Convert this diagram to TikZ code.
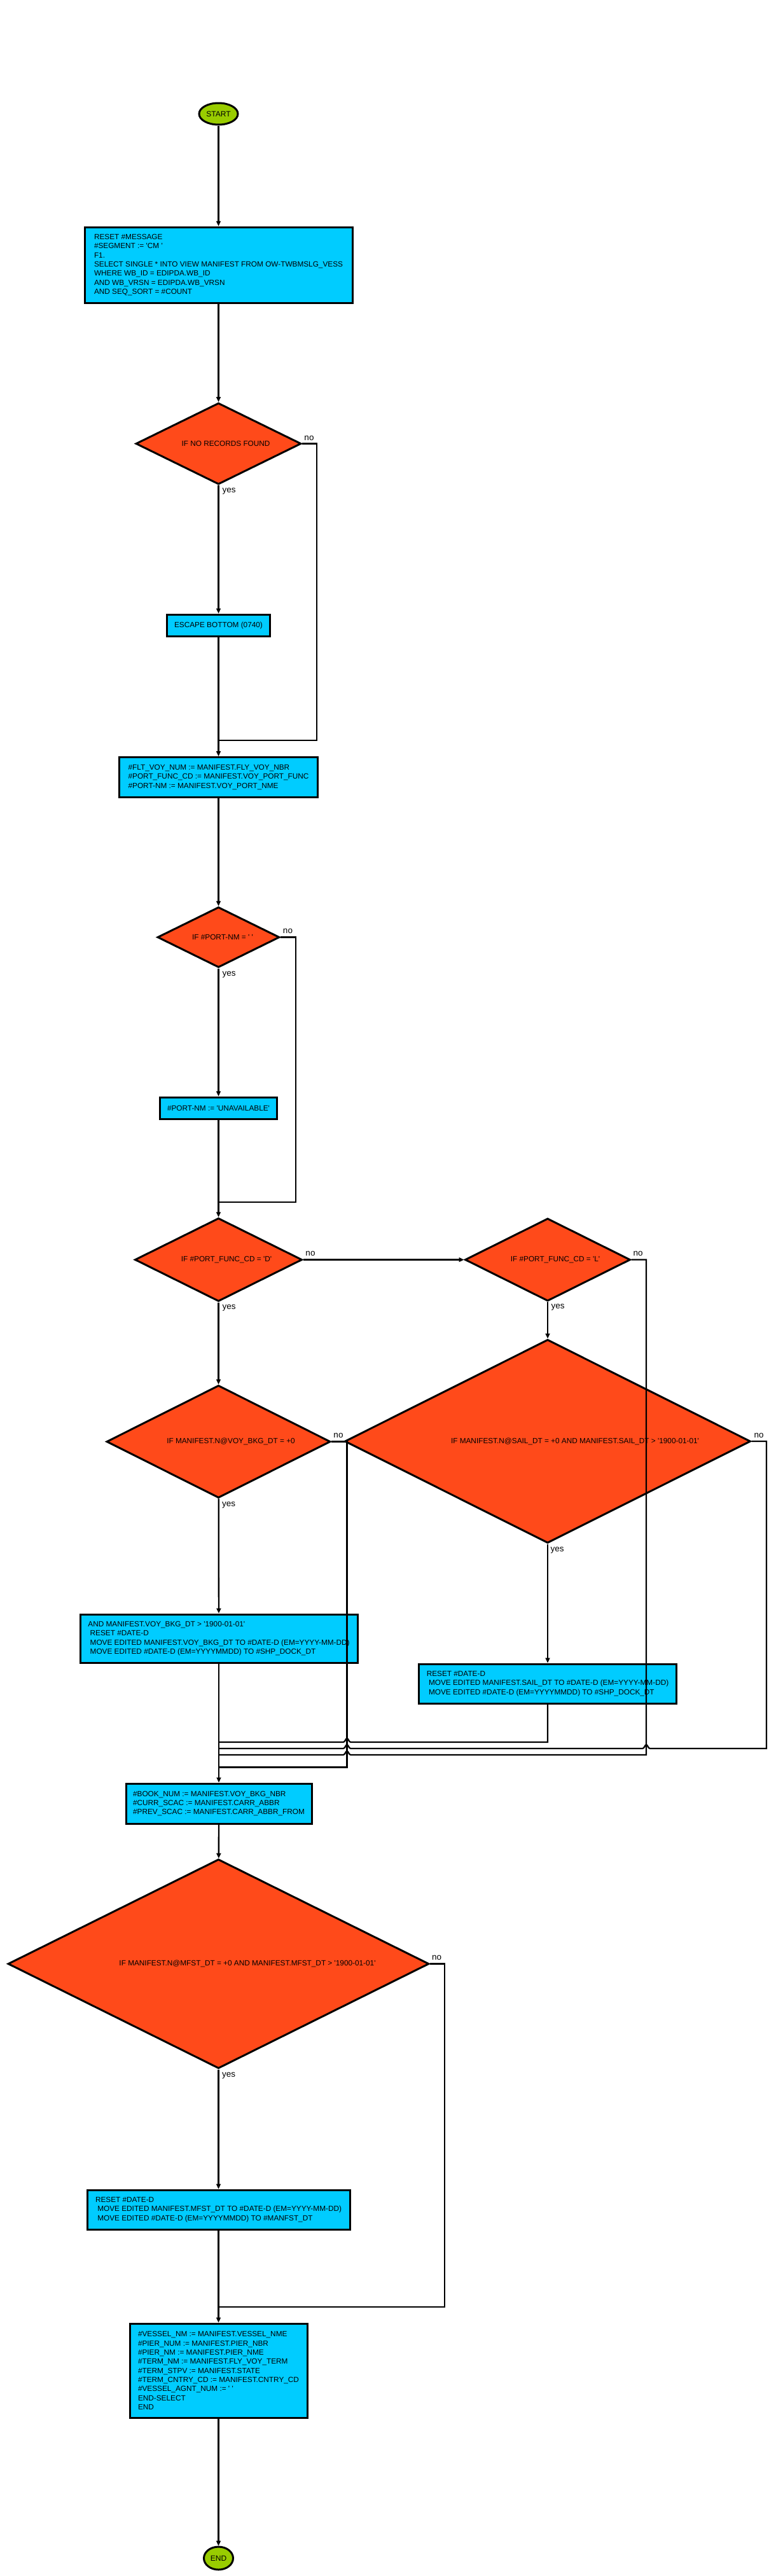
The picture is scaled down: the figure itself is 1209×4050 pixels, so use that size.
\documentclass[tikz,border=0pt]{standalone}
\usepackage{fontspec}
\setmainfont{Liberation Sans}[Ligatures=TeXOff]
\usetikzlibrary{shapes.geometric,arrows.meta}
\definecolor{termgreen}{HTML}{99CC00}
\definecolor{procblue}{HTML}{00CCFF}
\definecolor{decred}{HTML}{FF4A1A}
\begin{document}
\begin{tikzpicture}[x=1pt,y=-1pt,line join=miter,
  term/.style={ellipse,draw,line width=3pt,fill=termgreen,inner sep=0pt,font=\fontsize{12}{14}\selectfont},
  procbox/.style={rectangle,draw,line width=3pt,fill=procblue,inner sep=0pt,align=left,font=\fontsize{11.8}{14.3}\selectfont},
  procc/.style={rectangle,draw,line width=3pt,fill=procblue,inner sep=0pt,align=center,font=\fontsize{11.8}{14.3}\selectfont},
  decision/.style={diamond,draw,line width=3pt,fill=decred,inner sep=0pt},
  dtext/.style={inner sep=0pt,font=\fontsize{11.8}{14}\selectfont},
  lbl/.style={inner sep=0pt,font=\fontsize{13.5}{16}\selectfont},
  conn/.style={line width=2.3pt},
  arr/.style={conn,-{Triangle[length=8pt,width=7pt]}}]
\fill[white] (0,0) rectangle (1209,4050);
\useasboundingbox (0,0) rectangle (1209,4050);

% ---------- nodes ----------
\node[term,minimum width=61pt,minimum height=34pt] (start) at (343.5,179) {START};

\node[procbox,minimum width=421pt,minimum height=119pt] (box1) at (343.5,416.5)
 {RESET \#MESSAGE\\
  \#SEGMENT := 'CM '\\
  F1.\\
  SELECT SINGLE * INTO VIEW MANIFEST FROM OW-TWBMSLG\_VESS\\
  WHERE WB\_ID = EDIPDA.WB\_ID\\
  AND WB\_VRSN = EDIPDA.WB\_VRSN\\
  AND SEQ\_SORT = \#COUNT};

\node[decision,minimum width=260pt,minimum height=128pt] (d1) at (343.5,697.5) {};
\node[dtext] (d1t) at (355,697.5) {IF NO RECORDS FOUND};

\node[procc,minimum width=162pt,minimum height=34pt] (esc) at (343.5,983) {ESCAPE BOTTOM (0740)};

\node[procbox,minimum width=312pt,minimum height=63pt] (box2) at (343.5,1222)
 {\#FLT\_VOY\_NUM := MANIFEST.FLY\_VOY\_NBR\\
  \#PORT\_FUNC\_CD := MANIFEST.VOY\_PORT\_FUNC\\
  \#PORT-NM := MANIFEST.VOY\_PORT\_NME};

\node[decision,minimum width=192pt,minimum height=95pt] (d2) at (343.5,1473.5) {};
\node[dtext] (d2t) at (350,1473.5) {IF \#PORT-NM = ' '};

\node[procc,minimum width=184pt,minimum height=34pt] (unav) at (343.5,1742) {\#PORT-NM := 'UNAVAILABLE'};

\node[decision,minimum width=263pt,minimum height=131pt] (dD) at (343.5,1980.5) {};
\node[dtext] (dDt) at (356,1980.5) {IF \#PORT\_FUNC\_CD = 'D'};

\node[decision,minimum width=260pt,minimum height=130pt] (dL) at (861,1980.5) {};
\node[dtext] (dLt) at (873,1980.5) {IF \#PORT\_FUNC\_CD = 'L'};

\node[decision,minimum width=352pt,minimum height=177pt] (dB) at (343.5,2266.5) {};
\node[dtext] (dBt) at (363,2266.5) {IF MANIFEST.N@VOY\_BKG\_DT = +0};

\node[decision,minimum width=638pt,minimum height=320pt] (dS) at (861,2266) {};
\node[dtext] (dSt) at (904,2266) {IF MANIFEST.N@SAIL\_DT = +0 AND MANIFEST.SAIL\_DT > '1900-01-01'};

\node[procbox,minimum width=436pt,minimum height=76pt] (bkgbox) at (344,2576)
 {AND MANIFEST.VOY\_BKG\_DT > '1900-01-01'\\
  \hspace*{3.3pt}RESET \#DATE-D\\
  \hspace*{3.3pt}MOVE EDITED MANIFEST.VOY\_BKG\_DT TO \#DATE-D (EM=YYYY-MM-DD)\\
  \hspace*{3.3pt}MOVE EDITED \#DATE-D (EM=YYYYMMDD) TO \#SHP\_DOCK\_DT};

\node[procbox,minimum width=405pt,minimum height=62pt] (sailbox) at (861,2647)
 {RESET \#DATE-D\\
  \hspace*{3.3pt}MOVE EDITED MANIFEST.SAIL\_DT TO \#DATE-D (EM=YYYY-MM-DD)\\
  \hspace*{3.3pt}MOVE EDITED \#DATE-D (EM=YYYYMMDD) TO \#SHP\_DOCK\_DT};

\node[procbox,minimum width=292pt,minimum height=63pt] (bookbox) at (344,2835.5)
 {\#BOOK\_NUM := MANIFEST.VOY\_BKG\_NBR\\
  \#CURR\_SCAC := MANIFEST.CARR\_ABBR\\
  \#PREV\_SCAC := MANIFEST.CARR\_ABBR\_FROM};

\node[decision,minimum width=662pt,minimum height=329pt] (dM) at (343.5,3087.5) {};
\node[dtext] (dMt) at (389,3087.5) {IF MANIFEST.N@MFST\_DT = +0 AND MANIFEST.MFST\_DT > '1900-01-01'};

\node[procbox,minimum width=413pt,minimum height=62pt] (mfstbox) at (343.5,3474)
 {RESET \#DATE-D\\
  \hspace*{3.3pt}MOVE EDITED MANIFEST.MFST\_DT TO \#DATE-D (EM=YYYY-MM-DD)\\
  \hspace*{3.3pt}MOVE EDITED \#DATE-D (EM=YYYYMMDD) TO \#MANFST\_DT};

\node[procbox,minimum width=279pt,minimum height=148pt] (finalbox) at (343.5,3727)
 {\#VESSEL\_NM := MANIFEST.VESSEL\_NME\\
  \#PIER\_NUM := MANIFEST.PIER\_NBR\\
  \#PIER\_NM := MANIFEST.PIER\_NME\\
  \#TERM\_NM := MANIFEST.FLY\_VOY\_TERM\\
  \#TERM\_STPV := MANIFEST.STATE\\
  \#TERM\_CNTRY\_CD := MANIFEST.CNTRY\_CD\\
  \#VESSEL\_AGNT\_NUM := ' '\\
  END-SELECT\\
  END};

\node[term,minimum width=46pt,minimum height=36pt] (end) at (343.5,4022) {END};

% ---------- merge coordinates ----------
\coordinate (m1) at (343.5,1164);
\coordinate (m2) at (343.5,1890);
\coordinate (m3) at (343.5,2739);
\coordinate (m4) at (343.5,2749);
\coordinate (m5) at (343.5,2759);
\coordinate (m6) at (343.5,2778.5);
\coordinate (m7) at (343.5,3627);

% ---------- connectors ----------
\draw[arr] (start) -- (box1);
\draw[arr] (box1) -- (d1);
\draw[arr] (d1) -- (esc);
\draw[arr] (esc) -- (box2);
\draw[conn] (d1.east) -| (498,1164) -- (m1);

\draw[arr] (box2) -- (d2);
\draw[arr] (d2) -- (unav);
\draw[arr] (unav) -- (dD);
\draw[conn] (d2.east) -| (465,1890) -- (m2);

\draw[arr] (dD) -- (dL);
\draw[arr] (dD) -- (dB);
\draw[arr] (dL) -- (dS);
\draw[arr] (dB) -- (bkgbox);
\draw[arr] (dS) -- (sailbox);

% sail box back to main line (jump over x=545.5)
\draw[conn] (sailbox.south) -- (861,2739) -- (551.5,2739)
  .. controls (548.5,2739) and (547.5,2733) .. (545.5,2733)
  .. controls (543.5,2733) and (542.5,2739) .. (539.5,2739) -- (m3);
% sail "no" loop (jumps over x=1016 and x=545.5)
\draw[conn] (dS.east) -| (1205,2749) -- (1022,2749)
  .. controls (1019,2749) and (1018,2743) .. (1016,2743)
  .. controls (1014,2743) and (1013,2749) .. (1010,2749) -- (551.5,2749)
  .. controls (548.5,2749) and (547.5,2743) .. (545.5,2743)
  .. controls (543.5,2743) and (542.5,2749) .. (539.5,2749) -- (m4);
% L "no" loop (jump over x=545.5)
\draw[conn] (dL.east) -| (1016,2759) -- (551.5,2759)
  .. controls (548.5,2759) and (547.5,2753) .. (545.5,2753)
  .. controls (543.5,2753) and (542.5,2759) .. (539.5,2759) -- (m5);
% BKG "no" loop
\draw[conn] (dB.east) -| (545.5,2778.5) -- (m6);

\draw[arr] (bkgbox) -- (bookbox);
\draw[arr] (bookbox) -- (dM);
\draw[arr] (dM) -- (mfstbox);
\draw[conn] (dM.east) -| (699,3627) -- (m7);
\draw[arr] (mfstbox) -- (finalbox);
\draw[arr] (finalbox) -- (end);

% ---------- labels ----------
\node[lbl] (l1n) at (486,688.5) {no};
\node[lbl] (l1y) at (360,772.5) {yes};
\node[lbl] (l2n) at (452.5,1464) {no};
\node[lbl] (l2y) at (360,1532) {yes};
\node[lbl] (lDn) at (488,1971) {no};
\node[lbl] (lDy) at (360,2056) {yes};
\node[lbl] (lLn) at (1003,1971) {no};
\node[lbl] (lLy) at (877,2055) {yes};
\node[lbl] (lBn) at (532,2257) {no};
\node[lbl] (lBy) at (359.5,2366) {yes};
\node[lbl] (lSn) at (1193,2257) {no};
\node[lbl] (lSy) at (876,2437) {yes};
\node[lbl] (lMn) at (686.5,3078) {no};
\node[lbl] (lMy) at (359.5,3263) {yes};
\end{tikzpicture}
\end{document}
